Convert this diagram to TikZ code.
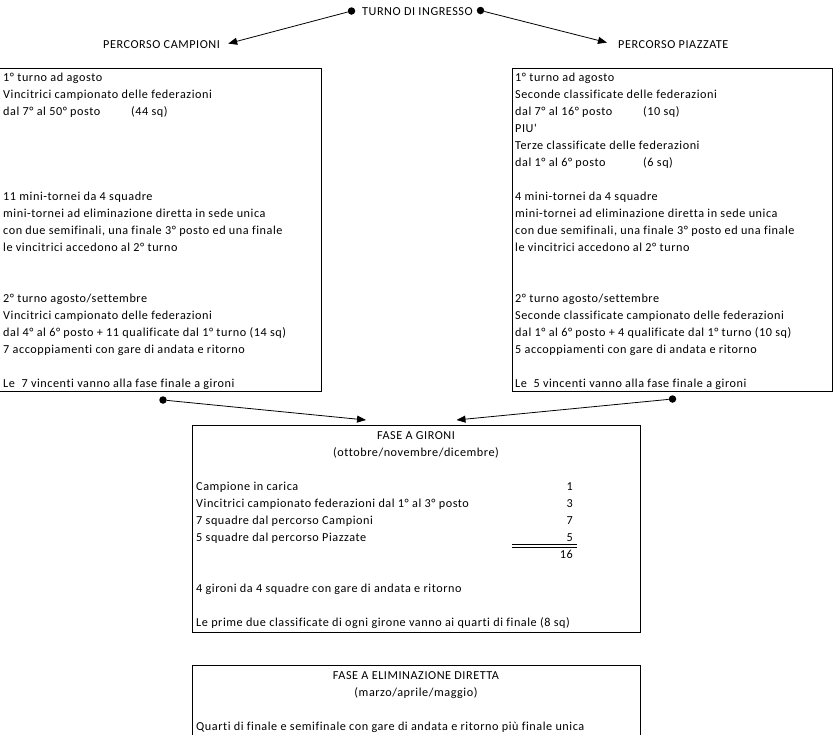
\documentclass[tikz,border=0pt]{standalone}
\usepackage{fontspec}
\setmainfont{Carlito}[Ligatures={TeXOff,NoCommon}, LetterSpace=4.5]
\usetikzlibrary{arrows.meta}
\begin{document}
\begin{tikzpicture}[x=1pt,y=-1pt,
  txt/.style={anchor=base west, inner sep=0pt, font=\fontsize{12.2}{14}\selectfont},
  ctxt/.style={anchor=base, inner sep=0pt, font=\fontsize{12.2}{14}\selectfont},
  num/.style={anchor=base east, inner sep=0pt, font=\fontsize{12.2}{14}\selectfont},
  box/.style={draw, line width=0.9pt, anchor=north west, inner sep=0pt},
  dot/.style={circle, fill, inner sep=0pt, minimum size=7.5pt},
  arr/.style={line width=0.8pt, -{Triangle[length=9pt,width=7pt]}}]
\useasboundingbox (0,0) rectangle (833,734);
\fill[white] (0,0) rectangle (833,734);

% top
\node[dot] (dT1) at (351.5,11) {};
\node[txt] (turno) at (362,15) {TURNO DI INGRESSO};
\node[dot] (dT2) at (480.5,10.5) {};
\node[txt] (pc) at (103,48) {PERCORSO CAMPIONI};
\node[txt] (pp) at (618,48) {PERCORSO PIAZZATE};
\draw[arr] (dT1) -- ([xshift=8pt,yshift=0.5pt]pc.east);
\draw[arr] (dT2) -- ([xshift=-11pt,yshift=1.5pt]pp.west);

% boxes
\node[box, minimum width=322pt, minimum height=323pt] (campioni) at (-1,68) {};
\node[box, minimum width=320pt, minimum height=323pt] (piazzate) at (512,68) {};
\node[box, minimum width=448pt, minimum height=207pt] (gironi) at (192,425) {};
\node[box, minimum width=448pt, minimum height=75pt] (elim) at (192,665) {};

% left box text
\foreach \r/\t in {0/{1° turno ad agosto},
  1/{Vincitrici campionato delle federazioni},
  2/{\makebox[128pt][l]{dal 7° al 50° posto}(44 sq)},
  7/{11 mini-tornei da 4 squadre},
  8/{mini-tornei ad eliminazione diretta in sede unica},
  9/{con due semifinali, una finale 3° posto ed una finale},
  10/{le vincitrici accedono al 2° turno},
  13/{2° turno agosto/settembre},
  14/{Vincitrici campionato delle federazioni},
  15/{dal 4° al 6° posto + 11 qualificate dal 1° turno (14 sq)},
  16/{7 accoppiamenti con gare di andata e ritorno},
  18/{Le~ 7 vincenti vanno alla fase finale a gironi}}
  \node[txt] (c\r) at (3,{81+17*\r}) {\t};

% right box text
\foreach \r/\t in {0/{1° turno ad agosto},
  1/{Seconde classificate delle federazioni},
  2/{\makebox[128pt][l]{dal 7° al 16° posto}(10 sq)},
  3/{PIU'},
  4/{Terze classificate delle federazioni},
  5/{\makebox[128pt][l]{dal 1° al 6° posto}(6 sq)},
  7/{4 mini-tornei da 4 squadre},
  8/{mini-tornei ad eliminazione diretta in sede unica},
  9/{con due semifinali, una finale 3° posto ed una finale},
  10/{le vincitrici accedono al 2° turno},
  13/{2° turno agosto/settembre},
  14/{Seconde classificate campionato delle federazioni},
  15/{dal 1° al 6° posto + 4 qualificate dal 1° turno (10 sq)},
  16/{5 accoppiamenti con gare di andata e ritorno},
  18/{Le~ 5 vincenti vanno alla fase finale a gironi}}
  \node[txt] (p\r) at (515,{81+17*\r}) {\t};

% arrows to gironi
\node[dot] (dB1) at (163,400) {};
\node[dot] (dB2) at (672.5,399) {};
\coordinate (gA) at (366,420);
\coordinate (gB) at (456.5,420);
\draw[arr] (dB1) -- (gA);
\draw[arr] (dB2) -- (gB);

% gironi text
\node[ctxt] (g0) at (416,439) {FASE A GIRONI};
\node[ctxt] (g1) at (416,456) {(ottobre/novembre/dicembre)};
\node[txt] (g3) at (196,490) {Campione in carica};
\node[txt] (g4) at (196,507) {Vincitrici campionato federazioni dal 1° al 3° posto};
\node[txt] (g5) at (196,524) {7 squadre dal percorso Campioni};
\node[txt] (g6) at (196,541) {5 squadre dal percorso Piazzate};
\node[num] (n3) at (573,490) {1};
\node[num] (n4) at (573,507) {3};
\node[num] (n5) at (573,524) {7};
\node[num] (n6) at (573,541) {5};
\node[num] (n7) at (573,558) {16};
\draw[line width=0.7pt] (512,544.5) -- (577,544.5);
\draw[line width=0.7pt] (512,547) -- (577,547);
\node[txt] (g9) at (196,592) {4 gironi da 4 squadre con gare di andata e ritorno};
\node[txt] (g11) at (196,626) {Le prime due classificate di ogni girone vanno ai quarti di finale (8 sq)};

% eliminazione text
\node[ctxt] (e0) at (416,679) {FASE A ELIMINAZIONE DIRETTA};
\node[ctxt] (e1) at (416,696) {(marzo/aprile/maggio)};
\node[txt] (e3) at (196,730) {Quarti di finale e semifinale con gare di andata e ritorno più finale unica};
\end{tikzpicture}
\end{document}
